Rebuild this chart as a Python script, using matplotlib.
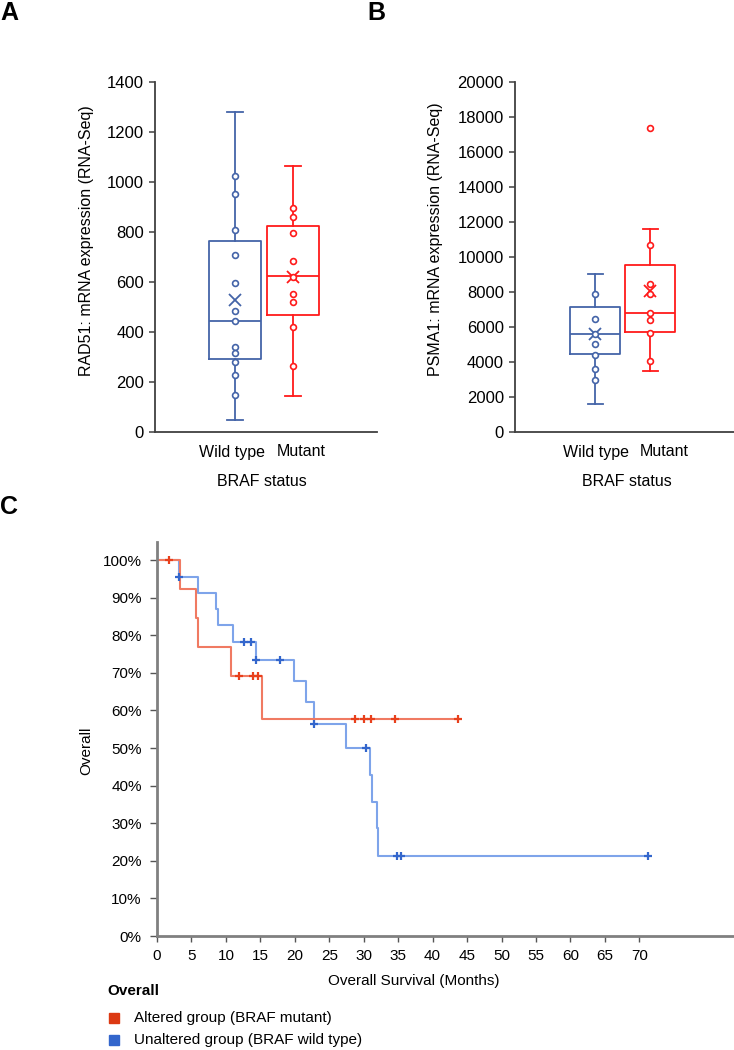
import numpy as np
import matplotlib
matplotlib.use("Agg")
import matplotlib.pyplot as plt
from matplotlib.patches import Rectangle

plt.rcParams["font.family"] = ["Liberation Sans", "DejaVu Sans"]

groups = ["Wild type", "Mutant"]

# Panel A: RAD51 (whislo, q1, median, q3, whishi)
rad51_wt_box = [50, 293, 445, 765, 1280]
rad51_mut_box = [143, 469, 624, 824, 1063]
rad51_means = [530, 620]
rad51_wt_points = [1023, 953, 809, 709, 596, 484, 445, 340, 317, 279, 228, 147]
rad51_mut_points = [896, 859, 796, 684, 620, 553, 521, 420, 265]

# Panel B: PSMA1
psma1_wt_box = [1600, 4476, 5619, 7143, 9010]
psma1_mut_box = [3486, 5714, 6800, 9543, 11600]
psma1_means = [5619, 8038]
psma1_wt_points = [7886, 6457, 5619, 5048, 4419, 3619, 2990]
psma1_mut_points = [17371, 10667, 8438, 7905, 6819, 6381, 5676, 4057]

# Panel C: Kaplan-Meier steps (months, % surviving)
mut_time = [0, 3.3, 5.6, 5.9, 10.7, 15.3, 43.7]
mut_surv = [100, 92.3, 84.6, 76.9, 69.2, 57.7, 57.7]
mut_censor = [1.8, 11.9, 13.9, 14.7, 28.8, 30.0, 31.0, 34.5, 43.7]

wt_time = [0, 3.2, 6.0, 8.6, 8.8, 11.0, 14.4, 19.9, 21.6, 22.8, 27.4,
           30.9, 31.2, 31.9, 32.1, 71.3]
wt_surv = [100, 95.6, 91.3, 87.0, 82.6, 78.2, 73.3, 67.8, 62.2, 56.4, 50.0,
           42.9, 35.7, 28.6, 21.4, 21.4]
wt_censor = [3.2, 12.6, 13.7, 14.4, 17.9, 22.8, 30.4, 34.8, 35.4, 71.3]

BOX_BLUE = "#4464a8"
BOX_RED = "#ff1a1a"
KM_RED_LINE = "#f07a62"
KM_RED_MARK = "#e8401c"
KM_BLUE_LINE = "#7ea4ea"
KM_BLUE_MARK = "#3366cc"

W, H = 734, 1050
fig = plt.figure(figsize=(W / 100, H / 100), dpi=100)


def px_axes(left, top, right, bottom):
    return fig.add_axes([left / W, 1 - bottom / H, (right - left) / W, (bottom - top) / H])


def draw_box_panel(ax, boxes, means, points, ylim, yticks, ylabel, xlim, width,
                   label_pos, ylab_xy, xlab_x):
    colors = [BOX_BLUE, BOX_RED]
    for i, (b, m, pts, c) in enumerate(zip(boxes, means, points, colors)):
        pos = i + 1
        stats = [dict(whislo=b[0], q1=b[1], med=b[2], q3=b[3], whishi=b[4], mean=m)]
        ax.bxp(stats, positions=[pos], widths=width, showmeans=True, showfliers=False,
               boxprops=dict(color=c, linewidth=1.3),
               medianprops=dict(color=c, linewidth=1.3),
               whiskerprops=dict(color=c, linewidth=1.3),
               capprops=dict(color=c, linewidth=1.3),
               capwidths=0.27,
               meanprops=dict(marker="x", markeredgecolor=c, markersize=8, markeredgewidth=1.3))
        ax.plot([pos] * len(pts), pts, "o", mfc="white", mec=c, ms=4.2, mew=1.2, zorder=3)
    ax.set_xlim(*xlim)
    ax.set_ylim(*ylim)
    ax.set_yticks(yticks)
    # labels sit slightly apart from the box centres, as in the original
    ax.set_xticks(label_pos)
    ax.set_xticklabels(groups, fontsize=11.5)
    ax.tick_params(axis="x", length=0, pad=9)
    ax.tick_params(axis="y", direction="out", length=4, width=1.1, color="#404040", labelsize=12, pad=4)
    for s in ["top", "right"]:
        ax.spines[s].set_visible(False)
    for s in ["left", "bottom"]:
        ax.spines[s].set_color("#404040")
        ax.spines[s].set_linewidth(1.3)
    ax.set_ylabel(ylabel, fontsize=11.5)
    ax.yaxis.set_label_coords(*ylab_xy)
    ax.set_xlabel("BRAF status", fontsize=11.5)
    ax.xaxis.set_label_coords(xlab_x, -0.12)


axA = px_axes(155, 82, 377, 432)
draw_box_panel(axA, [rad51_wt_box, rad51_mut_box], rad51_means,
               [rad51_wt_points, rad51_mut_points], (0, 1400), np.arange(0, 1401, 200),
               "RAD51: mRNA expression (RNA-Seq)", (-0.38, 3.45), 0.89,
               [0.95, 2.14], (-0.275, 0.546), 0.48)

axB = px_axes(515, 82, 734, 432)
draw_box_panel(axB, [psma1_wt_box, psma1_mut_box], psma1_means,
               [psma1_wt_points, psma1_mut_points], (0, 20000), np.arange(0, 20001, 2000),
               "PSMA1: mRNA expression (RNA-Seq)", (-0.46, 3.52), 0.91,
               [1.02, 2.25], (-0.33, 0.55), 0.51)

fig.text(0 / W, 1 - 13 / H, "A", fontsize=18, fontweight="bold", va="center", ha="left")
fig.text(367 / W, 1 - 13 / H, "B", fontsize=18, fontweight="bold", va="center", ha="left")
fig.text(0 / W, 1 - 507 / H, "C", fontsize=18, fontweight="bold", va="center", ha="left")

# Panel C: Kaplan-Meier
axC = px_axes(157, 542, 734, 936)
axC.set_xlim(0, 577 / 6.89)
axC.set_ylim(0, 104.8)

for t, s, cens, lc, mc in [(wt_time, wt_surv, wt_censor, KM_BLUE_LINE, KM_BLUE_MARK),
                           (mut_time, mut_surv, mut_censor, KM_RED_LINE, KM_RED_MARK)]:
    axC.step(t, s, where="post", color=lc, linewidth=1.5)
    idx = np.searchsorted(t, cens, side="right") - 1
    axC.plot(cens, np.array(s)[idx], "+", color=mc, ms=6, mew=1.6, zorder=3)

axC.set_xticks(np.arange(0, 71, 5))
axC.set_yticks(np.arange(0, 101, 10))
axC.set_yticklabels([f"{v}%" for v in range(0, 101, 10)])
axC.tick_params(axis="x", direction="out", length=4, width=1, color="#555555", labelsize=11, pad=5)
axC.tick_params(axis="y", direction="out", length=5, width=1, color="#555555", labelsize=11, pad=6)
for s in ["top", "right"]:
    axC.spines[s].set_visible(False)
for s in ["left", "bottom"]:
    axC.spines[s].set_color("#808080")
    axC.spines[s].set_linewidth(2)
axC.set_ylabel("Overall", fontsize=11)
axC.yaxis.set_label_coords(-0.111, 0.47)
axC.set_xlabel("Overall Survival (Months)", fontsize=11)
axC.xaxis.set_label_coords((414 - 157) / 577, -0.097)

# legend
fig.text(107 / W, 1 - 991 / H, "Overall", fontsize=11, fontweight="bold", va="center", ha="left")
for y, c, label in [(1018, "#dc3912", "Altered group (BRAF mutant)"),
                    (1040, "#3366cc", "Unaltered group (BRAF wild type)")]:
    fig.patches.append(Rectangle((109 / W, 1 - (y + 5) / H), 10 / W, 10 / H,
                                 transform=fig.transFigure, color=c))
    fig.text(134 / W, 1 - y / H, label, fontsize=11, va="center", ha="left")

fig.savefig("out.png", dpi=100)
